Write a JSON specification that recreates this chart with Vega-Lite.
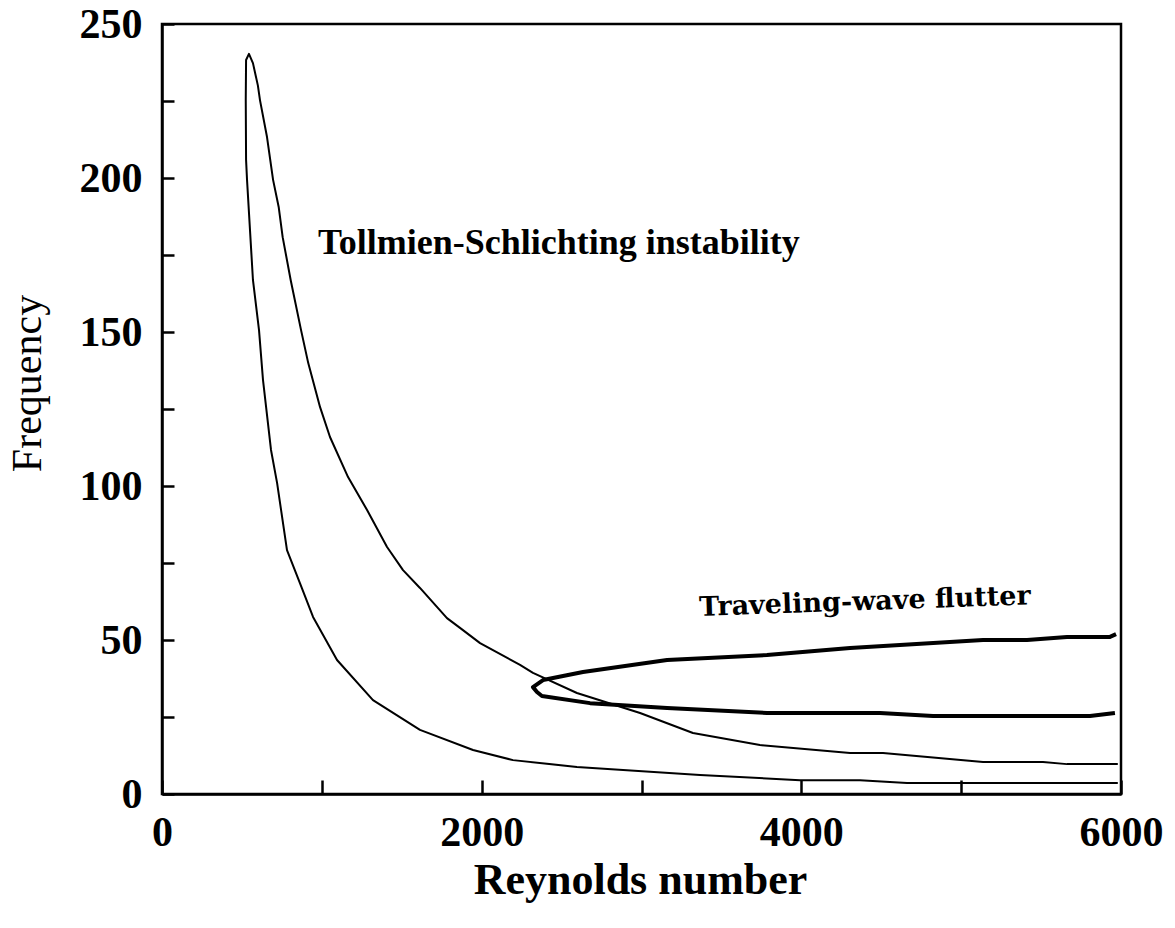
{
  "$schema": "https://vega.github.io/schema/vega-lite/v6.json",
  "autosize": "none",
  "width": 959,
  "height": 770,
  "padding": {"left": 162, "top": 24, "right": 54, "bottom": 134},
  "background": "white",
  "config": {
    "view": {"stroke": "black", "strokeWidth": 2.5},
    "font": "Liberation Serif"
  },
  "datasets": {
    "ts": [
      {"order": 1, "Re": 5980, "freq": 3.6},
      {"order": 2, "Re": 4661, "freq": 3.6},
      {"order": 3, "Re": 4367, "freq": 4.5},
      {"order": 4, "Re": 3992, "freq": 4.5},
      {"order": 5, "Re": 3366, "freq": 6.2},
      {"order": 6, "Re": 2596, "freq": 8.8},
      {"order": 7, "Re": 2196, "freq": 11.0},
      {"order": 8, "Re": 1946, "freq": 14.3},
      {"order": 9, "Re": 1614, "freq": 20.8},
      {"order": 10, "Re": 1320, "freq": 30.5},
      {"order": 11, "Re": 1095, "freq": 43.5},
      {"order": 12, "Re": 945, "freq": 57.5},
      {"order": 13, "Re": 863, "freq": 68.5},
      {"order": 14, "Re": 782, "freq": 79.2},
      {"order": 15, "Re": 720, "freq": 101},
      {"order": 16, "Re": 682, "freq": 111.7},
      {"order": 17, "Re": 632, "freq": 134.4},
      {"order": 18, "Re": 607, "freq": 150.6},
      {"order": 19, "Re": 569, "freq": 166.9},
      {"order": 20, "Re": 532, "freq": 199.4},
      {"order": 21, "Re": 526, "freq": 205.9},
      {"order": 22, "Re": 524, "freq": 225.3},
      {"order": 23, "Re": 526, "freq": 238.3},
      {"order": 24, "Re": 544, "freq": 240.3},
      {"order": 25, "Re": 569, "freq": 237.3},
      {"order": 26, "Re": 600, "freq": 230.0},
      {"order": 27, "Re": 613, "freq": 225.3},
      {"order": 28, "Re": 657, "freq": 213.3},
      {"order": 29, "Re": 695, "freq": 199.4},
      {"order": 30, "Re": 730, "freq": 190.6},
      {"order": 31, "Re": 755, "freq": 180.8},
      {"order": 32, "Re": 805, "freq": 166.9},
      {"order": 33, "Re": 870, "freq": 150.6},
      {"order": 34, "Re": 915, "freq": 139.9},
      {"order": 35, "Re": 989, "freq": 125.6},
      {"order": 36, "Re": 1051, "freq": 115.9},
      {"order": 37, "Re": 1164, "freq": 102.9},
      {"order": 38, "Re": 1283, "freq": 92.2},
      {"order": 39, "Re": 1408, "freq": 80.2},
      {"order": 40, "Re": 1508, "freq": 72.7},
      {"order": 41, "Re": 1614, "freq": 66.9},
      {"order": 42, "Re": 1783, "freq": 57.1},
      {"order": 43, "Re": 1883, "freq": 53.2},
      {"order": 44, "Re": 1990, "freq": 49.0},
      {"order": 45, "Re": 2240, "freq": 41.9},
      {"order": 46, "Re": 2321, "freq": 39.3},
      {"order": 47, "Re": 2596, "freq": 32.8},
      {"order": 48, "Re": 2991, "freq": 26.3},
      {"order": 49, "Re": 3322, "freq": 19.8},
      {"order": 50, "Re": 3741, "freq": 15.9},
      {"order": 51, "Re": 4305, "freq": 13.3},
      {"order": 52, "Re": 4511, "freq": 13.3},
      {"order": 53, "Re": 5137, "freq": 10.4},
      {"order": 54, "Re": 5512, "freq": 10.4},
      {"order": 55, "Re": 5662, "freq": 9.7},
      {"order": 56, "Re": 5980, "freq": 9.7}
    ],
    "flutter": [
      {"order": 1, "Re": 5969, "freq": 51.9},
      {"order": 2, "Re": 5931, "freq": 51.0},
      {"order": 3, "Re": 5662, "freq": 51.0},
      {"order": 4, "Re": 5412, "freq": 50.0},
      {"order": 5, "Re": 5137, "freq": 50.0},
      {"order": 6, "Re": 4305, "freq": 47.4},
      {"order": 7, "Re": 3785, "freq": 45.1},
      {"order": 8, "Re": 3160, "freq": 43.5},
      {"order": 9, "Re": 2634, "freq": 39.6},
      {"order": 10, "Re": 2384, "freq": 37.0},
      {"order": 11, "Re": 2321, "freq": 34.7},
      {"order": 12, "Re": 2346, "freq": 33.1},
      {"order": 13, "Re": 2377, "freq": 31.8},
      {"order": 14, "Re": 2678, "freq": 29.5},
      {"order": 15, "Re": 3160, "freq": 27.9},
      {"order": 16, "Re": 3785, "freq": 26.3},
      {"order": 17, "Re": 4492, "freq": 26.3},
      {"order": 18, "Re": 4824, "freq": 25.3},
      {"order": 19, "Re": 5806, "freq": 25.3},
      {"order": 20, "Re": 5962, "freq": 26.3}
    ],
    "labels": [
      {"Re": 976, "freq": 178.9, "text": "Tollmien-Schlichting instability", "kind": "ts"},
      {"Re": 4398, "freq": 62.3, "text": "Traveling-wave flutter", "kind": "fl"}
    ]
  },
  "layer": [
    {
      "data": {"name": "ts"},
      "mark": {"type": "line", "color": "black", "strokeWidth": 2, "strokeJoin": "round"},
      "encoding": {
        "x": {
          "field": "Re", "type": "quantitative",
          "scale": {"domain": [0, 6000], "nice": false},
          "axis": {
            "title": "Reynolds number",
            "values": [0, 1000, 2000, 3000, 4000, 5000, 6000],
            "labelExpr": "datum.value % 2000 == 0 ? datum.label : ''",
            "format": "d",
            "grid": false,
            "domainColor": "black", "domainWidth": 2.5,
            "tickColor": "black", "tickWidth": 2.5, "tickSize": -14,
            "labelFont": "Liberation Serif", "labelFontWeight": "bold", "labelFontSize": 42,
            "labelColor": "black", "labelPadding": 32, "labelBaseline": "top", "labelFlush": false,
            "titleFont": "Liberation Serif", "titleFontWeight": "bold", "titleFontSize": 44,
            "titleColor": "black", "titleX": 478, "titleY": 86, "titleBaseline": "middle"
          }
        },
        "y": {
          "field": "freq", "type": "quantitative",
          "scale": {"domain": [0, 250], "nice": false},
          "axis": {
            "title": "Frequency",
            "values": [0, 25, 50, 75, 100, 125, 150, 175, 200, 225, 250],
            "labelExpr": "datum.value % 50 == 0 ? datum.label : ''",
            "grid": false,
            "domainColor": "black", "domainWidth": 2.5,
            "tickColor": "black", "tickWidth": 2.5, "tickSize": -12,
            "labelFont": "Liberation Serif", "labelFontWeight": "bold", "labelFontSize": 42,
            "labelColor": "black", "labelPadding": 32, "labelFlush": false,
            "titleFont": "Liberation Serif", "titleFontWeight": "normal", "titleFontSize": 42,
            "titleColor": "black", "titleAngle": -90, "titleX": -135, "titleY": 359,
            "titleBaseline": "middle", "titleAlign": "center"
          }
        },
        "order": {"field": "order", "type": "quantitative"}
      }
    },
    {
      "data": {"name": "flutter"},
      "mark": {"type": "line", "color": "black", "strokeWidth": 4, "strokeJoin": "round"},
      "encoding": {
        "x": {"field": "Re", "type": "quantitative"},
        "y": {"field": "freq", "type": "quantitative"},
        "order": {"field": "order", "type": "quantitative"}
      }
    },
    {
      "data": {"name": "labels"},
      "transform": [{"filter": "datum.kind == 'ts'"}],
      "mark": {"type": "text", "font": "Liberation Serif", "fontWeight": "bold", "fontSize": 36, "align": "left", "baseline": "middle", "color": "black"},
      "encoding": {
        "x": {"field": "Re", "type": "quantitative"},
        "y": {"field": "freq", "type": "quantitative"},
        "text": {"field": "text"}
      }
    },
    {
      "data": {"name": "labels"},
      "transform": [{"filter": "datum.kind == 'fl'"}],
      "mark": {"type": "text", "font": "DejaVu Serif", "fontWeight": "bold", "fontSize": 27, "align": "center", "baseline": "middle", "angle": -2, "color": "black"},
      "encoding": {
        "x": {"field": "Re", "type": "quantitative"},
        "y": {"field": "freq", "type": "quantitative"},
        "text": {"field": "text"}
      }
    }
  ]
}
